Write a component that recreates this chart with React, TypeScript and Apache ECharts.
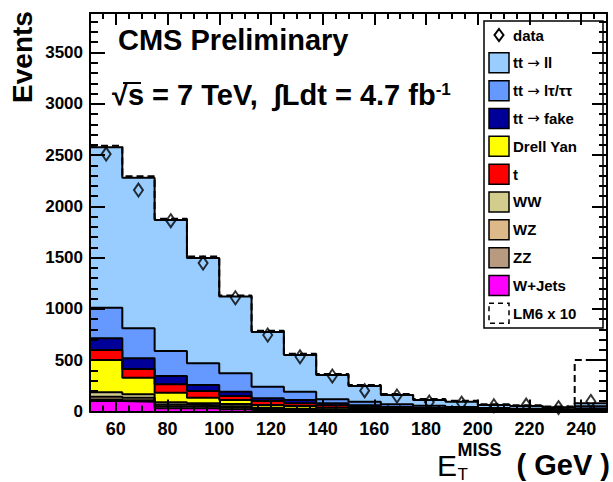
import React, { useEffect, useRef } from "react";
import * as echarts from "echarts";

// Histogram binning (GeV)
const binLow = 50;
const binWidth = 12.5;

// Expected events per bin, one array per process (stacked bottom to top)
const wJets = [102, 96, 31, 31, 21, 12, 8, 5, 4, 3, 2, 2, 1, 1, 1, 2];
const zz = [16, 14, 19, 17, 17, 6, 5, 4, 3, 3, 2, 2, 2, 1, 1, 2];
const wz = [26, 25, 18, 14, 14, 8, 6, 5, 4, 3, 3, 2, 2, 2, 1, 2];
const ww = [43, 33, 22, 18, 21, 10, 9, 6, 5, 3, 3, 2, 2, 2, 2, 3];
const drellYan = [315, 161, 93, 55, 39, 27, 26, 16, 11, 8, 5, 4, 3, 2, 2, 4];
const singleTop = [97, 85, 82, 65, 39, 39, 26, 24, 18, 13, 10, 8, 5, 5, 4, 9];
const ttFake = [114, 104, 81, 58, 42, 27, 32, 20, 15, 11, 8, 7, 5, 4, 3, 8];
const ttLTau = [299, 293, 244, 212, 179, 113, 81, 39, 35, 26, 22, 18, 15, 11, 8, 20];
const ttLL = [1563, 1468, 1276, 1027, 748, 533, 358, 237, 154, 91, 57, 51, 28, 26, 19, 30];

// Signal point LM6 scaled by 10, drawn on top of the SM stack
const lm6x10 = [16, 15, 14, 13, 12, 12, 11, 10, 10, 9, 9, 8, 8, 8, 8, 422];

// Observed events
const dataCounts = [2510, 2159, 1860, 1447, 1109, 746, 534, 346, 203, 151, 92, 82, 56, 63, 38, 98];

// Axis labels
const xTickLabels = [60, 80, 100, 120, 140, 160, 180, 200, 220, 240];
const yTickLabels = [0, 500, 1000, 1500, 2000, 2500, 3000, 3500];

const X_MIN = 50;
const X_MAX = 250;
const Y_MIN = 0;
const Y_MAX = 3885;

const stackLayers = [
  { key: "wjets", name: "W+Jets", values: wJets, color: "#ff00ff" },
  { key: "zz", name: "ZZ", values: zz, color: "#b89a80" },
  { key: "wz", name: "WZ", values: wz, color: "#ddb98a" },
  { key: "ww", name: "WW", values: ww, color: "#d2cd8c" },
  { key: "dy", name: "Drell Yan", values: drellYan, color: "#ffff00" },
  { key: "t", name: "t", values: singleTop, color: "#ff0000" },
  { key: "fake", name: "tt → fake", values: ttFake, color: "#000099" },
  { key: "ltau", name: "tt → lτ/ττ", values: ttLTau, color: "#6699ff" },
  { key: "ll", name: "tt → ll", values: ttLL, color: "#99ccff" },
];

// Legend entry order, top to bottom
const legendOrder = ["ll", "ltau", "fake", "dy", "t", "ww", "wz", "zz", "wjets"];

const FONT = "'Liberation Sans', Arial, Helvetica, sans-serif";
const ARROW_FONT = "'DejaVu Sans', sans-serif";

const edges = Array.from({ length: dataCounts.length + 1 }, (_, i) => binLow + i * binWidth);
const centers = dataCounts.map((_, i) => binLow + (i + 0.5) * binWidth);

function stepPoints(values: number[]) {
  const pts = values.map((v, i) => [edges[i], v]);
  pts.push([edges[values.length], values[values.length - 1]]);
  return pts;
}

function cumulativeLayers() {
  const out: number[][] = [];
  let running = stackLayers[0].values.map(() => 0);
  for (const layer of stackLayers) {
    running = running.map((r, i) => r + layer.values[i]);
    out.push(running.slice());
  }
  return out;
}

function minorValues(lo: number, hi: number, step: number, major: number) {
  const out: number[] = [];
  for (let v = lo + step; v < hi; v += step) {
    if (v % major !== 0) out.push(v);
  }
  return out;
}

function xAxisDef(position: "top" | "bottom", ticks: number[], len: number, withLine: boolean, withLabels: boolean) {
  return {
    type: "value",
    position,
    min: X_MIN,
    max: X_MAX,
    z: 10,
    splitLine: { show: false },
    axisLine: { show: withLine, onZero: false, lineStyle: { color: "#000", width: 2 } },
    axisTick: { show: true, inside: true, length: len, customValues: ticks, lineStyle: { color: "#000", width: 2 } },
    axisLabel: withLabels
      ? {
          show: true,
          customValues: xTickLabels,
          formatter: (v: number) => String(v),
          color: "#000",
          fontSize: 18,
          fontWeight: "bold",
          fontFamily: FONT,
          margin: 8,
        }
      : { show: false },
  };
}

function yAxisDef(position: "left" | "right", ticks: number[], len: number, withLine: boolean, withLabels: boolean) {
  return {
    type: "value",
    position,
    min: Y_MIN,
    max: Y_MAX,
    z: 10,
    splitLine: { show: false },
    axisLine: { show: withLine, onZero: false, lineStyle: { color: "#000", width: 2 } },
    axisTick: { show: true, inside: true, length: len, customValues: ticks, lineStyle: { color: "#000", width: 2 } },
    axisLabel: withLabels
      ? {
          show: true,
          customValues: yTickLabels,
          formatter: (v: number) => String(v),
          color: "#000",
          fontSize: 17,
          fontWeight: "bold",
          fontFamily: FONT,
          margin: 7,
        }
      : { show: false },
  };
}

function legendLabel(text: string) {
  // Render the arrow with a font whose arrow glyph is full-size
  const parts = text.split("→");
  if (parts.length === 1) return { text, rich: undefined };
  return {
    text: `{a|${parts[0]}}{b|→}{a|${parts[1]}}`,
    rich: {
      a: { font: `bold 15px ${FONT}`, fill: "#000" },
      b: { font: `15px ${ARROW_FONT}`, fill: "#000" },
    },
  };
}

function buildOption() {
  const cum = cumulativeLayers();
  const total = cum[cum.length - 1];
  const series: any[] = [];

  // Draw cumulative histograms from the top of the stack downwards
  for (let k = stackLayers.length - 1; k >= 0; k--) {
    series.push({
      type: "line",
      name: stackLayers[k].name,
      data: stepPoints(cum[k]),
      step: "end",
      symbol: "none",
      xAxisIndex: 0,
      yAxisIndex: 0,
      lineStyle: { color: "#000", width: 2 },
      areaStyle: { color: stackLayers[k].color, opacity: 1 },
      itemStyle: { color: stackLayers[k].color },
      z: 2,
    });
  }

  series.push({
    type: "line",
    name: "LM6 x 10",
    data: stepPoints(total.map((t, i) => t + lm6x10[i])),
    step: "end",
    symbol: "none",
    xAxisIndex: 0,
    yAxisIndex: 0,
    lineStyle: { color: "#000", width: 2, type: [7, 4] },
    z: 3,
  });

  series.push({
    type: "scatter",
    name: "data",
    data: centers.map((c, i) => [c, dataCounts[i]]),
    symbol: "diamond",
    symbolSize: [9, 13],
    xAxisIndex: 0,
    yAxisIndex: 0,
    itemStyle: { color: "rgba(0,0,0,0)", borderColor: "#000", borderWidth: 2 },
    z: 4,
  });

  const xMinor = minorValues(X_MIN, X_MAX, 5, 20);
  const yMinor = minorValues(Y_MIN, Y_MAX, 100, 500);

  // Legend box
  const legendRows = [
    { label: "data", kind: "marker" },
    ...legendOrder.map((key) => {
      const l = stackLayers.find((s) => s.key === key)!;
      return { label: l.name, kind: "fill", color: l.color };
    }),
    { label: "LM6 x 10", kind: "dashed" },
  ] as { label: string; kind: string; color?: string }[];

  const legendChildren: any[] = [
    {
      type: "rect",
      shape: { x: 484, y: 21, width: 119, height: 307 },
      style: { fill: "#fff", stroke: "#000", lineWidth: 1.5 },
    },
  ];
  legendRows.forEach((row, i) => {
    const yc = 35 + i * 27.83;
    if (row.kind === "marker") {
      legendChildren.push({
        type: "polygon",
        shape: { points: [[499, yc - 6], [503.5, yc], [499, yc + 6], [494.5, yc]] },
        style: { fill: "none", stroke: "#000", lineWidth: 2 },
      });
    } else if (row.kind === "fill") {
      legendChildren.push({
        type: "rect",
        shape: { x: 489, y: yc - 10, width: 20, height: 20 },
        style: { fill: row.color, stroke: "#000", lineWidth: 1.5 },
      });
    } else {
      legendChildren.push({
        type: "rect",
        shape: { x: 489, y: yc - 10, width: 20, height: 20 },
        style: { fill: "none", stroke: "#000", lineWidth: 1.5, lineDash: [5, 4] },
      });
    }
    const lbl = legendLabel(row.label);
    legendChildren.push({
      type: "text",
      x: 513,
      y: yc,
      style: {
        text: lbl.text,
        rich: lbl.rich,
        font: `bold 15px ${FONT}`,
        fill: "#000",
        verticalAlign: "middle",
        align: "left",
      },
    });
  });

  const graphic: any[] = [
    { type: "group", z: 100, children: legendChildren },
    {
      type: "text",
      z: 100,
      x: 118,
      y: 40,
      style: { text: "CMS Preliminary", font: `bold 29px ${FONT}`, fill: "#000", verticalAlign: "middle" },
    },
    {
      type: "text",
      z: 100,
      x: 112,
      y: 95,
      style: {
        text: "{m|√s = 7 TeV,  ∫Ldt = 4.7 fb}{s|-1}",
        fill: "#000",
        verticalAlign: "middle",
        rich: {
          m: { font: `bold 29px ${FONT}`, fill: "#000" },
          s: { font: `bold 17px ${FONT}`, fill: "#000", verticalAlign: "top" },
        },
      },
    },
    // overline of the square root
    {
      type: "line",
      z: 100,
      shape: { x1: 123, y1: 83, x2: 141, y2: 83 },
      style: { stroke: "#000", lineWidth: 2 },
    },
    {
      type: "text",
      z: 100,
      x: 22,
      y: 57,
      rotation: Math.PI / 2,
      style: { text: "Events", font: `bold 28px ${FONT}`, fill: "#000", align: "center", verticalAlign: "middle" },
    },
    {
      type: "text",
      z: 100,
      x: 437,
      y: 465,
      style: { text: "E", font: `30px ${FONT}`, fill: "#000", verticalAlign: "middle" },
    },
    {
      type: "text",
      z: 100,
      x: 457.5,
      y: 450,
      style: { text: "MISS", font: `bold 18px ${FONT}`, fill: "#000", verticalAlign: "middle" },
    },
    {
      type: "text",
      z: 100,
      x: 457.5,
      y: 474,
      style: { text: "T", font: `17px ${FONT}`, fill: "#000", verticalAlign: "middle" },
    },
    {
      type: "text",
      z: 100,
      x: 610,
      y: 465,
      style: { text: "( GeV )", font: `bold 29px ${FONT}`, fill: "#000", align: "right", verticalAlign: "middle" },
    },
  ];

  return {
    animation: false,
    backgroundColor: "#fff",
    grid: { left: 90, right: 6, top: 13, bottom: 70.5, containLabel: false },
    xAxis: [
      xAxisDef("bottom", xTickLabels, 12, true, true),
      xAxisDef("bottom", xMinor, 6, false, false),
      xAxisDef("top", xTickLabels, 12, true, false),
      xAxisDef("top", xMinor, 6, false, false),
    ],
    yAxis: [
      yAxisDef("left", yTickLabels, 15, true, true),
      yAxisDef("left", yMinor, 8, false, false),
      yAxisDef("right", yTickLabels, 15, true, false),
      yAxisDef("right", yMinor, 8, false, false),
    ],
    series,
    graphic,
  };
}

export default function App() {
  const ref = useRef<HTMLDivElement>(null);
  useEffect(() => {
    if (!ref.current) return;
    const chart = echarts.init(ref.current, null, { renderer: "svg" });
    chart.setOption(buildOption() as any);
    return () => chart.dispose();
  }, []);
  return (
    <div
      ref={ref}
      style={{ position: "fixed", left: 0, top: 0, width: 613, height: 482, background: "#fff" }}
    />
  );
}
